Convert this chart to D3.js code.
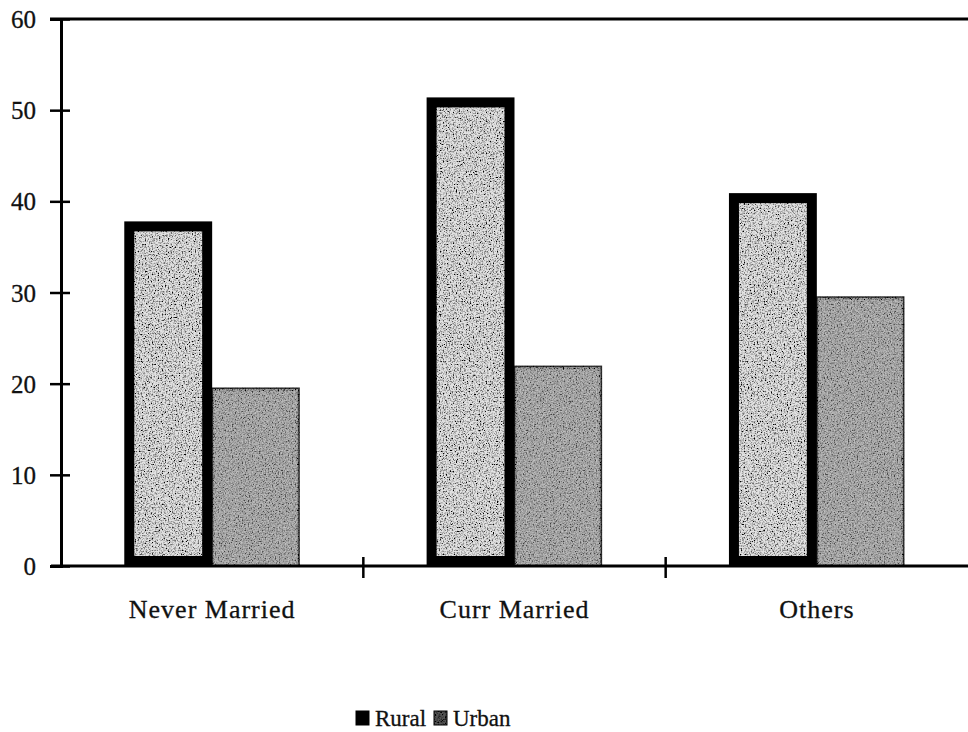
<!DOCTYPE html>
<html>
<head>
<meta charset="utf-8">
<script src="https://cdn.jsdelivr.net/npm/d3@7/dist/d3.min.js"></script>
<style>
  body { margin: 0; background: #fff; }
  text { font-family: "Liberation Serif", "Times New Roman", serif; fill: #111; stroke: #111; stroke-width: 0.3px; }
</style>
</head>
<body>
<script>
// chart values
var categories = ["Never Married", "Curr Married", "Others"];
var series = ["Rural", "Urban"];
var rural = [37.8, 51.4, 40.9];
var urban = [19.5, 21.9, 29.5];
var yTicks = [0, 10, 20, 30, 40, 50, 60];

var width = 968, height = 732;
var plotLeft = 61, plotRight = 968, plotTop = 19, plotBottom = 566;

var svg = d3.select("body").append("svg")
    .attr("width", width)
    .attr("height", height);

// speckle texture, scan look
var defs = svg.append("defs");
function speckle(id, seed, k, b, white) {
    var f = defs.append("filter").attr("id", id)
        .attr("x", "-20%").attr("y", "-5%").attr("width", "140%").attr("height", "110%");
    f.append("feTurbulence").attr("type", "fractalNoise")
        .attr("baseFrequency", 0.7).attr("numOctaves", 2).attr("seed", seed).attr("result", "n");
    f.append("feColorMatrix").attr("in", "n").attr("type", "matrix")
        .attr("values", "0 0 0 0 " + white + "  0 0 0 0 " + white + "  0 0 0 0 " + white + "  " + k + " 0 0 0 " + b)
        .attr("result", "dots");
    f.append("feComposite").attr("in", "dots").attr("in2", "SourceGraphic")
        .attr("operator", "atop");
}
speckle("specLight", 4, 3.2, -1.4, 0);
speckle("specDark", 9, 3.0, -1.2, 0);
speckle("specWhite", 13, 3.0, -1.3, 1);

var y = d3.scaleLinear().domain([0, 60]).range([plotBottom, plotTop]);

var x0 = d3.scaleBand().domain(categories).range([plotLeft, plotRight])
    .paddingInner(0).paddingOuter(0);

var x1 = d3.scaleBand().domain(series).range([0, x0.bandwidth()])
    .paddingInner(0).paddingOuter(0.72);

var data = categories.map(function(c, i) {
    return { cat: c, values: [ { s: "Rural", v: rural[i] }, { s: "Urban", v: urban[i] } ] };
});

// bars
var groups = svg.append("g").selectAll("g")
    .data(data)
    .enter().append("g")
    .attr("transform", function(d) { return "translate(" + x0(d.cat) + ",0)"; });

var urbanBars = groups.selectAll("g.urban")
    .data(function(d) { return d.values.filter(function(v) { return v.s === "Urban"; }); })
    .enter().append("g")
    .attr("class", "urban");
urbanBars.append("rect")
    .attr("x", function(d) { return x1(d.s); })
    .attr("y", function(d) { return y(d.v); })
    .attr("width", x1.bandwidth() - 1)
    .attr("height", function(d) { return y(0) - y(d.v); })
    .attr("fill", "#a4a4a4")
    .attr("stroke", "#333")
    .attr("stroke-width", 1.5)
    .attr("filter", "url(#specDark)");
urbanBars.append("rect")
    .attr("x", function(d) { return x1(d.s) + 2; })
    .attr("y", function(d) { return y(d.v) + 3; })
    .attr("width", x1.bandwidth() - 5)
    .attr("height", function(d) { return y(0) - y(d.v) - 4; })
    .attr("fill", "#bbb")
    .attr("opacity", 0.35)
    .attr("filter", "url(#specWhite)");

groups.selectAll("rect.rural")
    .data(function(d) { return d.values.filter(function(v) { return v.s === "Rural"; }); })
    .enter().append("rect")
    .attr("class", "rural")
    .attr("x", function(d) { return x1(d.s) + 5; })
    .attr("y", function(d) { return y(d.v) + 5; })
    .attr("width", x1.bandwidth() - 10)
    .attr("height", function(d) { return y(0) - y(d.v) - 10; })
    .attr("fill", "#e2e2e2")
    .attr("stroke", "#000")
    .attr("stroke-width", 10)
    .attr("filter", "url(#specLight)");

// top frame line
svg.append("line")
    .attr("x1", 50).attr("x2", plotRight)
    .attr("y1", y(60)).attr("y2", y(60))
    .attr("stroke", "#000").attr("stroke-width", 3);

// y axis
var yAxis = svg.append("g")
    .attr("transform", "translate(" + plotLeft + ",0)")
    .call(d3.axisLeft(y).tickValues(yTicks).tickSize(11).tickPadding(14));
yAxis.select(".domain").attr("stroke", "#000").attr("stroke-width", 3);
yAxis.selectAll(".tick line").attr("x1", 9).attr("stroke", "#000").attr("stroke-width", 2.5);
yAxis.selectAll(".tick text")
    .style("font-size", "25px")
    .attr("dy", "0.34em");

// x axis
var xAxis = svg.append("g")
    .attr("transform", "translate(0," + plotBottom + ")")
    .call(d3.axisBottom(x0).tickSize(0).tickPadding(34));
xAxis.select(".domain").attr("stroke", "#000").attr("stroke-width", 3)
    .attr("d", "M" + (plotLeft - 10) + ",0H" + plotRight);
xAxis.selectAll(".tick text")
    .style("font-size", "26px")
    .attr("letter-spacing", "1px");

// category boundary ticks
svg.append("g").selectAll("line")
    .data(categories.slice(1))
    .enter().append("line")
    .attr("x1", function(d) { return x0(d); })
    .attr("x2", function(d) { return x0(d); })
    .attr("y1", plotBottom - 9).attr("y2", plotBottom + 12)
    .attr("stroke", "#000").attr("stroke-width", 2.5);

// legend
var legend = svg.append("g").attr("transform", "translate(356,718)");
var legItems = [
    { name: series[0], x: 0, fill: "#000", filter: null },
    { name: series[1], x: 78, fill: "#555", filter: "url(#specDark)" }
];
var li = legend.selectAll("g").data(legItems).enter().append("g")
    .attr("transform", function(d) { return "translate(" + d.x + ",0)"; });
li.append("rect")
    .attr("x", 0).attr("y", -7)
    .attr("width", 13).attr("height", 14)
    .attr("fill", function(d) { return d.fill; })
    .attr("stroke", "#000").attr("stroke-width", 1)
    .attr("filter", function(d) { return d.filter; });
li.append("text")
    .attr("x", 19).attr("y", 0).attr("dy", "0.34em")
    .style("font-size", "23px")
    .text(function(d) { return d.name; });
</script>
</body>
</html>
